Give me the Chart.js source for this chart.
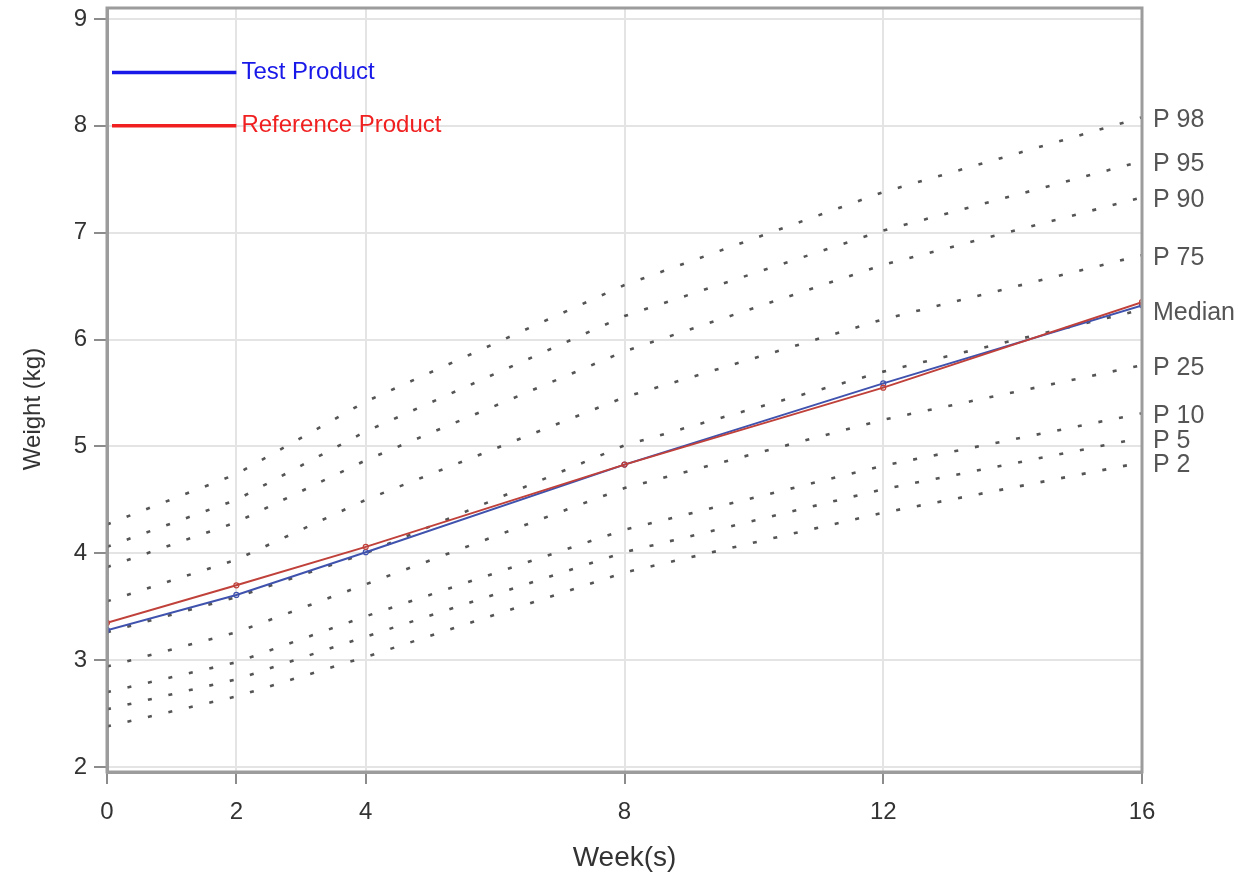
<!DOCTYPE html>
<html>
<head>
<meta charset="utf-8">
<title>Weight by week</title>
<script src="https://cdn.jsdelivr.net/npm/chart.js@4.4.0/dist/chart.umd.min.js"></script>
<style>
  html, body { margin: 0; padding: 0; background: #fff; }
  #wrap { width: 1250px; height: 878px; }
</style>
</head>
<body>
<div id="wrap"><canvas id="weightCanvas" width="1250" height="878"></canvas></div>
<script>
// weeks where values were read
const weeks = [0, 2, 4, 8, 12, 16];
const xTicks = [0, 2, 4, 8, 12, 16];
const yTicks = [2, 3, 4, 5, 6, 7, 8, 9];

// product means
const testProduct = [3.28, 3.61, 4.01, 4.83, 5.59, 6.32];
const refProduct = [3.35, 3.70, 4.06, 4.83, 5.55, 6.35];

// reference percentile curves
const p98 = [4.27, 4.74, 5.42, 6.51, 7.38, 8.08];
const p95 = [4.06, 4.50, 5.14, 6.22, 7.02, 7.67];
const p90 = [3.87, 4.29, 4.87, 5.89, 6.70, 7.33];
const p75 = [3.55, 3.94, 4.50, 5.46, 6.19, 6.79];
const pMedian = [3.26, 3.59, 4.00, 5.01, 5.70, 6.28];
const p25 = [2.94, 3.26, 3.71, 4.61, 5.25, 5.76];
const p10 = [2.70, 2.98, 3.41, 4.22, 4.82, 5.31];
const p5 = [2.54, 2.82, 3.22, 4.01, 4.60, 5.08];
const p2 = [2.38, 2.66, 3.03, 3.82, 4.38, 4.85];

const percentileNames = ['P 98', 'P 95', 'P 90', 'P 75', 'Median', 'P 25', 'P 10', 'P 5', 'P 2'];
const percentileValues = [p98, p95, p90, p75, pMedian, p25, p10, p5, p2];

const FONT = '"Liberation Sans", Arial, sans-serif';

function toPoints(values) {
    return weeks.map((w, i) => ({ x: w, y: values[i] }));
}

const productSets = [
    { label: 'Reference Product', data: toPoints(refProduct), borderColor: '#c0403a', legendColor: '#f02020' },
    { label: 'Test Product', data: toPoints(testProduct), borderColor: '#3f52ad', legendColor: '#1818e8' }
].map(d => Object.assign(d, {
    borderWidth: 2,
    pointRadius: 2.5,
    pointBorderWidth: 1.2,
    pointBackgroundColor: 'rgba(255,255,255,0)',
    pointBorderColor: d.borderColor,
    tension: 0
}));

const percentileSets = percentileNames.map((name, i) => ({
    label: name,
    data: toPoints(percentileValues[i]),
    borderColor: 'rgba(55,55,55,0.85)',
    borderWidth: 2.6,
    borderDash: [4, 17],
    pointRadius: 0,
    tension: 0
}));

// frame, legend in the plot, y title and labels at the right end of the curves
const decorations = {
    id: 'decorations',
    afterDraw(chart) {
        const ctx = chart.ctx;
        const area = chart.chartArea;
        const xs = chart.scales.x;
        const ys = chart.scales.y;
        ctx.save();
        ctx.strokeStyle = '#9c9c9c';
        ctx.lineWidth = 3;
        ctx.strokeRect(area.left, area.top, area.right - area.left, area.bottom - area.top);

        // legend
        const legendRows = [productSets[1], productSets[0]];
        const rowValues = [8.5, 8.0];
        ctx.font = '24px ' + FONT;
        ctx.textBaseline = 'middle';
        ctx.textAlign = 'left';
        legendRows.forEach((d, i) => {
            const y = ys.getPixelForValue(rowValues[i]);
            const x1 = xs.getPixelForValue(2);
            ctx.strokeStyle = d.legendColor;
            ctx.lineWidth = 3.5;
            ctx.beginPath();
            ctx.moveTo(area.left + 5, y);
            ctx.lineTo(x1, y);
            ctx.stroke();
            ctx.fillStyle = d.legendColor;
            ctx.fillText(d.label, x1 + 5, y);
        });

        // right labels
        ctx.font = '25px ' + FONT;
        ctx.fillStyle = '#555';
        percentileNames.forEach((name, i) => {
            const vals = percentileValues[i];
            const y = ys.getPixelForValue(vals[vals.length - 1]) + 3;
            ctx.fillText(name, area.right + 11, y);
        });

        // y axis title, sits a little below the middle of the axis
        ctx.translate(33, (area.top + area.bottom) / 2 + 19);
        ctx.rotate(-Math.PI / 2);
        ctx.textAlign = 'center';
        ctx.font = '24px ' + FONT;
        ctx.fillStyle = '#333';
        ctx.fillText('Weight (kg)', 0, 0);
        ctx.restore();
    }
};

const ctx = document.getElementById('weightCanvas').getContext('2d');
const chart = new Chart(ctx, {
    type: 'line',
    data: { datasets: productSets.concat(percentileSets) },
    options: {
        responsive: false,
        animation: false,
        devicePixelRatio: 1,
        layout: { padding: { top: 8, right: 108, left: 0, bottom: 0 } },
        plugins: {
            legend: { display: false },
            tooltip: { enabled: false }
        },
        scales: {
            x: {
                type: 'linear',
                min: 0,
                max: 16,
                afterBuildTicks: scale => { scale.ticks = xTicks.map(v => ({ value: v })); },
                afterFit: scale => { scale.height = 106; scale.paddingLeft = 0; scale.paddingRight = 0; },
                grid: { color: '#e4e4e4', lineWidth: 2, tickColor: '#8c8c8c', tickLength: 12, tickWidth: 2 },
                border: { color: '#9c9c9c', width: 3 },
                ticks: { color: '#333', font: { family: FONT, size: 24 }, padding: 14, maxRotation: 0 },
                title: { display: true, text: 'Week(s)', color: '#333', font: { family: FONT, size: 28 }, padding: { top: 0, bottom: 3 } }
            },
            y: {
                min: 1.953,
                max: 9.103,
                afterBuildTicks: scale => { scale.ticks = yTicks.map(v => ({ value: v })); },
                afterFit: scale => { scale.width = 107; scale.paddingTop = 0; scale.paddingBottom = 0; },
                grid: { color: '#e4e4e4', lineWidth: 2, tickColor: '#8c8c8c', tickLength: 13, tickWidth: 2 },
                border: { color: '#9c9c9c', width: 3 },
                ticks: { color: '#333', font: { family: FONT, size: 24 }, padding: 7 },
                title: { display: false }
            }
        }
    },
    plugins: [decorations]
});
</script>
</body>
</html>
